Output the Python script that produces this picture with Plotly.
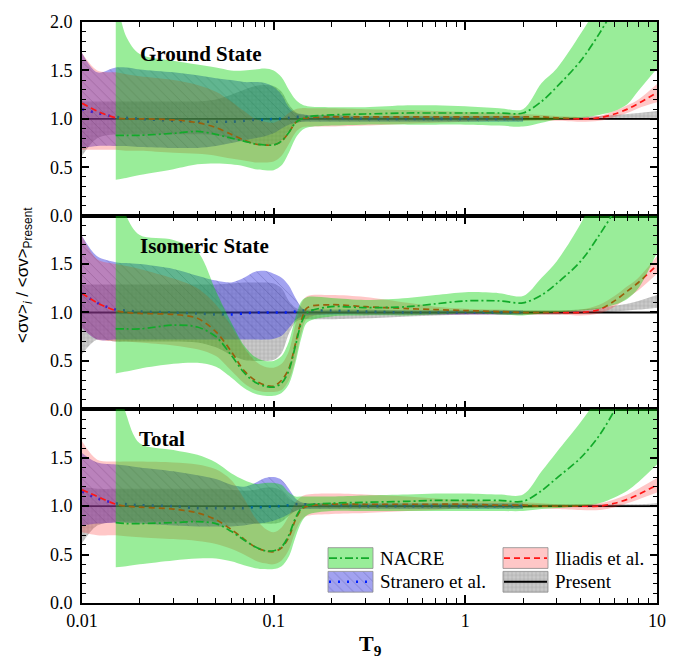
import plotly.graph_objects as go

# Temperature grid (T9)
T9 = [0.010, 0.012, 0.015, 0.017, 0.02, 0.03, 0.04, 0.05, 0.06, 0.07, 0.08, 0.09, 0.10,
      0.11, 0.12, 0.13, 0.14, 0.15, 0.20, 0.30, 0.50, 0.70, 1.0, 1.5, 2.0, 2.5, 3.0,
      4.0, 5.0, 6.0, 7.0, 8.0, 10.0]
N8 = [None] * 8

# ---------------- Ground state ----------------
present_gs_hi = [1.18, 1.18, 1.18, 1.18, 1.18, 1.18, 1.18, 1.20, 1.25, 1.30, 1.34, 1.35, 1.34, 1.28, 1.15, 1.07, 1.04, 1.03, 1.02, 1.02, 1.02, 1.02, 1.02, 1.02, 1.02, 1.02, 1.02, 1.02, 1.03, 1.04, 1.05, 1.06, 1.08]
present_gs_lo = [0.62, 0.80, 0.84, 0.84, 0.84, 0.84, 0.84, 0.83, 0.80, 0.76, 0.74, 0.73, 0.74, 0.78, 0.88, 0.95, 0.97, 0.98, 0.98, 0.98, 0.98, 0.98, 0.98, 0.98, 0.98, 0.99, 0.99, 0.99, 0.99, 0.99, 0.99, 0.99, 0.99]
stranero_gs_hi = [1.68, 1.48, 1.53, 1.53, 1.51, 1.48, 1.45, 1.42, 1.40, 1.38, 1.38, 1.37, 1.33, 1.25, 1.12, 1.06, 1.05, 1.04, 1.04, 1.03, 1.03, 1.03, 1.03, 1.03, 1.03] + N8
stranero_gs_mid = [1.10, 1.06, 1.02, 1.01, 1.00, 0.98, 0.97, 0.97, 0.97, 0.98, 0.99, 0.99, 1.00, 1.00, 1.01, 1.02, 1.02, 1.02, 1.01, 1.00, 1.00, 1.00, 1.00, 1.00, 1.00] + N8
stranero_gs_lo = [0.70, 0.72, 0.72, 0.72, 0.71, 0.70, 0.70, 0.72, 0.75, 0.78, 0.80, 0.82, 0.85, 0.90, 0.94, 0.96, 0.97, 0.97, 0.97, 0.97, 0.97, 0.97, 0.97, 0.97, 0.97] + N8
iliadis_gs_hi = [1.68, 1.50, 1.48, 1.46, 1.44, 1.40, 1.35, 1.28, 1.18, 1.08, 1.00, 0.97, 0.96, 1.00, 1.06, 1.10, 1.11, 1.11, 1.11, 1.10, 1.09, 1.08, 1.07, 1.06, 1.05, 1.04, 1.03, 1.02, 1.03, 1.08, 1.14, 1.20, 1.36]
iliadis_gs_mid = [1.16, 1.08, 1.01, 1.00, 1.00, 0.99, 0.96, 0.91, 0.84, 0.78, 0.74, 0.73, 0.73, 0.77, 0.86, 0.96, 1.00, 1.01, 1.02, 1.02, 1.02, 1.02, 1.02, 1.02, 1.02, 1.02, 1.01, 1.00, 1.01, 1.05, 1.10, 1.16, 1.27]
iliadis_gs_lo = [0.68, 0.68, 0.68, 0.67, 0.67, 0.65, 0.64, 0.62, 0.59, 0.57, 0.55, 0.55, 0.56, 0.62, 0.74, 0.86, 0.91, 0.92, 0.92, 0.93, 0.95, 0.96, 0.97, 0.98, 0.98, 0.98, 0.98, 0.97, 0.98, 1.02, 1.06, 1.11, 1.17]
nacre_gs_hi = [None, None, 2.30, 1.85, 1.67, 1.60, 1.56, 1.53, 1.50, 1.50, 1.51, 1.52, 1.50, 1.43, 1.30, 1.20, 1.15, 1.13, 1.12, 1.12, 1.14, 1.14, 1.13, 1.11, 1.10, 1.37, 1.52, 1.88, 2.20, 2.55, 2.85, 3.15, 3.70]
nacre_gs_mid = [None, None, 0.83, 0.83, 0.83, 0.85, 0.87, 0.84, 0.80, 0.77, 0.74, 0.73, 0.73, 0.77, 0.86, 0.96, 1.00, 1.02, 1.04, 1.05, 1.06, 1.06, 1.06, 1.06, 1.06, 1.18, 1.33, 1.60, 1.88, 2.15, 2.40, 2.60, 3.00]
nacre_gs_lo = [None, None, 0.37, 0.39, 0.42, 0.48, 0.53, 0.54, 0.53, 0.51, 0.48, 0.47, 0.47, 0.52, 0.65, 0.80, 0.88, 0.91, 0.93, 0.94, 0.94, 0.94, 0.94, 0.93, 0.92, 0.96, 0.99, 1.01, 1.04, 1.08, 1.15, 1.29, 1.52]

# ---------------- Isomeric state ----------------
present_is_hi = [1.29, 1.29, 1.29, 1.29, 1.29, 1.29, 1.29, 1.29, 1.30, 1.31, 1.31, 1.31, 1.30, 1.25, 1.12, 1.05, 1.03, 1.03, 1.03, 1.03, 1.02, 1.02, 1.02, 1.02, 1.02, 1.02, 1.02, 1.03, 1.05, 1.07, 1.09, 1.12, 1.18]
present_is_lo = [0.57, 0.72, 0.70, 0.70, 0.70, 0.70, 0.69, 0.64, 0.56, 0.51, 0.50, 0.50, 0.51, 0.58, 0.78, 0.90, 0.93, 0.93, 0.93, 0.94, 0.96, 0.97, 0.98, 0.98, 0.98, 0.98, 0.98, 0.99, 1.00, 1.01, 1.02, 1.03, 1.05]
stranero_is_hi = [1.79, 1.58, 1.52, 1.51, 1.50, 1.45, 1.38, 1.33, 1.31, 1.36, 1.42, 1.43, 1.40, 1.36, 1.28, 1.15, 1.05, 1.02, 1.02, 1.02, 1.02, 1.02, 1.02, 1.02, 1.02] + N8
stranero_is_mid = [1.20, 1.10, 1.03, 1.02, 1.01, 1.00, 0.99, 0.98, 0.98, 0.99, 1.00, 1.00, 1.00, 1.00, 1.00, 1.01, 1.02, 1.02, 1.02, 1.01, 1.00, 1.00, 1.00, 1.00, 1.00] + N8
stranero_is_lo = [0.84, 0.72, 0.72, 0.72, 0.72, 0.72, 0.72, 0.72, 0.72, 0.72, 0.72, 0.72, 0.73, 0.76, 0.84, 0.92, 0.96, 0.97, 0.98, 0.98, 0.98, 0.98, 0.98, 0.98, 0.98] + N8
iliadis_is_hi = [1.79, 1.55, 1.50, 1.48, 1.45, 1.35, 1.25, 1.08, 0.86, 0.64, 0.50, 0.44, 0.43, 0.47, 0.60, 0.88, 1.10, 1.17, 1.18, 1.16, 1.10, 1.06, 1.04, 1.03, 1.02, 1.02, 1.02, 1.03, 1.08, 1.17, 1.27, 1.36, 1.58]
iliadis_is_mid = [1.20, 1.10, 1.02, 1.00, 0.99, 0.98, 0.94, 0.80, 0.60, 0.40, 0.30, 0.25, 0.24, 0.30, 0.42, 0.68, 0.93, 1.05, 1.08, 1.06, 1.04, 1.03, 1.02, 1.01, 1.00, 1.00, 1.00, 1.00, 1.03, 1.12, 1.22, 1.31, 1.49]
iliadis_is_lo = [0.84, 0.72, 0.70, 0.70, 0.69, 0.66, 0.62, 0.55, 0.40, 0.27, 0.20, 0.18, 0.18, 0.20, 0.30, 0.52, 0.80, 0.94, 0.99, 0.98, 0.98, 0.98, 0.98, 0.98, 0.98, 0.98, 0.98, 0.97, 0.99, 1.06, 1.15, 1.23, 1.40]
nacre_is_hi = [None, None, 2.40, 2.00, 1.80, 1.75, 1.63, 1.22, 0.90, 0.66, 0.54, 0.50, 0.50, 0.55, 0.70, 0.95, 1.12, 1.16, 1.15, 1.13, 1.15, 1.18, 1.21, 1.20, 1.17, 1.36, 1.53, 1.92, 2.30, 2.60, 2.90, 3.20, 3.80]
nacre_is_mid = [None, None, 0.83, 0.83, 0.83, 0.87, 0.85, 0.75, 0.56, 0.38, 0.28, 0.24, 0.23, 0.27, 0.40, 0.66, 0.90, 1.00, 1.06, 1.05, 1.06, 1.09, 1.12, 1.12, 1.10, 1.18, 1.30, 1.53, 1.80, 2.05, 2.30, 2.50, 2.90]
nacre_is_lo = [None, None, 0.37, 0.39, 0.42, 0.47, 0.48, 0.44, 0.33, 0.22, 0.16, 0.14, 0.14, 0.17, 0.26, 0.48, 0.75, 0.90, 0.96, 0.97, 0.97, 0.98, 0.99, 0.98, 0.97, 0.99, 1.00, 1.02, 1.04, 1.08, 1.14, 1.25, 1.62]

# ---------------- Total ----------------
present_tot_hi = [1.20, 1.18, 1.18, 1.18, 1.18, 1.18, 1.18, 1.18, 1.17, 1.16, 1.17, 1.19, 1.19, 1.16, 1.08, 1.04, 1.03, 1.03, 1.02, 1.02, 1.02, 1.02, 1.02, 1.02, 1.02, 1.02, 1.02, 1.02, 1.02, 1.02, 1.02, 1.02, 1.03]
present_tot_lo = [0.62, 0.80, 0.84, 0.84, 0.84, 0.84, 0.84, 0.84, 0.83, 0.83, 0.82, 0.82, 0.82, 0.84, 0.90, 0.95, 0.97, 0.98, 0.98, 0.98, 0.98, 0.98, 0.98, 0.98, 0.98, 0.99, 0.99, 0.99, 0.99, 0.99, 0.99, 0.99, 0.99]
stranero_tot_hi = [1.55, 1.45, 1.43, 1.42, 1.40, 1.36, 1.32, 1.28, 1.22, 1.20, 1.24, 1.29, 1.30, 1.27, 1.18, 1.08, 1.04, 1.03, 1.03, 1.03, 1.03, 1.03, 1.03, 1.03, 1.03] + N8
stranero_tot_mid = [1.15, 1.08, 1.03, 1.02, 1.01, 1.00, 0.98, 0.98, 0.98, 0.98, 0.99, 0.99, 1.00, 1.00, 1.01, 1.02, 1.02, 1.02, 1.01, 1.00, 1.00, 1.00, 1.00, 1.00, 1.00] + N8
stranero_tot_lo = [0.80, 0.82, 0.83, 0.83, 0.82, 0.80, 0.79, 0.79, 0.79, 0.80, 0.82, 0.83, 0.85, 0.88, 0.92, 0.95, 0.97, 0.97, 0.97, 0.97, 0.97, 0.97, 0.97, 0.97, 0.97] + N8
iliadis_tot_hi = [1.67, 1.48, 1.46, 1.46, 1.46, 1.45, 1.43, 1.38, 1.27, 1.08, 0.88, 0.77, 0.73, 0.78, 0.90, 1.04, 1.10, 1.12, 1.13, 1.12, 1.10, 1.08, 1.06, 1.05, 1.04, 1.03, 1.02, 1.02, 1.03, 1.07, 1.12, 1.18, 1.29]
iliadis_tot_mid = [1.17, 1.10, 1.02, 1.00, 0.99, 0.97, 0.93, 0.86, 0.76, 0.66, 0.58, 0.54, 0.53, 0.57, 0.68, 0.86, 0.97, 1.00, 1.02, 1.02, 1.02, 1.02, 1.02, 1.01, 1.01, 1.00, 1.00, 1.00, 1.00, 1.03, 1.07, 1.12, 1.22]
iliadis_tot_lo = [0.73, 0.70, 0.70, 0.69, 0.68, 0.66, 0.64, 0.61, 0.56, 0.50, 0.44, 0.41, 0.40, 0.44, 0.55, 0.74, 0.86, 0.90, 0.92, 0.93, 0.95, 0.96, 0.98, 0.98, 0.98, 0.98, 0.97, 0.96, 0.96, 0.99, 1.03, 1.07, 1.14]
nacre_tot_hi = [None, None, 2.40, 1.95, 1.65, 1.58, 1.53, 1.45, 1.34, 1.27, 1.23, 1.24, 1.24, 1.22, 1.14, 1.10, 1.10, 1.10, 1.10, 1.11, 1.12, 1.13, 1.13, 1.12, 1.12, 1.36, 1.56, 1.87, 2.15, 2.50, 2.80, 3.10, 3.70]
nacre_tot_mid = [None, None, 0.83, 0.82, 0.82, 0.83, 0.84, 0.82, 0.74, 0.65, 0.58, 0.54, 0.54, 0.58, 0.70, 0.88, 0.98, 1.01, 1.03, 1.04, 1.05, 1.06, 1.06, 1.06, 1.05, 1.16, 1.29, 1.50, 1.73, 1.99, 2.25, 2.45, 2.85]
nacre_tot_lo = [None, None, 0.37, 0.38, 0.40, 0.44, 0.46, 0.46, 0.43, 0.39, 0.36, 0.35, 0.35, 0.38, 0.48, 0.68, 0.84, 0.91, 0.95, 0.95, 0.95, 0.95, 0.95, 0.95, 0.95, 0.97, 0.98, 1.00, 1.03, 1.09, 1.16, 1.25, 1.43]

PANEL_TITLES = ["Ground State", "Isomeric State", "Total"]
Y_TICKS = [0.0, 0.5, 1.0, 1.5, 2.0]
X_TICKS = [0.01, 0.1, 1, 10]
X_TICKTEXT = ["0.01", "0.1", "1", "10"]

SERIF = "Liberation Serif"
SANS = "Liberation Sans"

STYLE = {
    "Present": dict(fill="rgba(150,150,150,0.55)", line=dict(color="black", width=1.8, dash="solid"),
                    pattern=dict(shape="+", bgcolor="rgba(150,150,150,0.50)", fgcolor="rgba(70,70,70,0.55)", size=4, solidity=0.25)),
    "Stranero et al.": dict(fill="rgba(60,60,225,0.50)", line=dict(color="#0020ff", width=2.6, dash="2px,7px"),
                            pattern=dict(shape="\\", bgcolor="rgba(70,70,225,0.50)", fgcolor="rgba(40,40,110,0.5)", size=7, solidity=0.14)),
    "Iliadis et al.": dict(fill="rgba(255,40,40,0.26)", line=dict(color="#ff1515", width=1.7, dash="6px,4px"), pattern=None),
    "NACRE": dict(fill="rgba(0,210,0,0.40)", line=dict(color="#12aa2a", width=1.7, dash="8px,3px,2px,3px"), pattern=None),
}

panels = [
    {"Present": (present_gs_lo, [1.0] * len(T9), present_gs_hi),
     "Stranero et al.": (stranero_gs_lo, stranero_gs_mid, stranero_gs_hi),
     "Iliadis et al.": (iliadis_gs_lo, iliadis_gs_mid, iliadis_gs_hi),
     "NACRE": (nacre_gs_lo, nacre_gs_mid, nacre_gs_hi)},
    {"Present": (present_is_lo, [1.0] * len(T9), present_is_hi),
     "Stranero et al.": (stranero_is_lo, stranero_is_mid, stranero_is_hi),
     "Iliadis et al.": (iliadis_is_lo, iliadis_is_mid, iliadis_is_hi),
     "NACRE": (nacre_is_lo, nacre_is_mid, nacre_is_hi)},
    {"Present": (present_tot_lo, [1.0] * len(T9), present_tot_hi),
     "Stranero et al.": (stranero_tot_lo, stranero_tot_mid, stranero_tot_hi),
     "Iliadis et al.": (iliadis_tot_lo, iliadis_tot_mid, iliadis_tot_hi),
     "NACRE": (nacre_tot_lo, nacre_tot_mid, nacre_tot_hi)},
]


def valid(xs, ys):
    pts = [(x, y) for x, y in zip(xs, ys) if y is not None]
    return [p[0] for p in pts], [p[1] for p in pts]


fig = go.Figure()
SMOOTH = 0.9

for i, panel in enumerate(panels):
    xa = "x" if i == 0 else f"x{i + 1}"
    ya = "y" if i == 0 else f"y{i + 1}"
    for name in ["Present", "Stranero et al.", "Iliadis et al.", "NACRE"]:
        lo, mid, hi = panel[name]
        st = STYLE[name]
        x_lo, y_lo = valid(T9, lo)
        x_hi, y_hi = valid(T9, hi)
        x_mid, y_mid = valid(T9, mid)
        fig.add_trace(go.Scatter(x=x_lo, y=y_lo, mode="lines", xaxis=xa, yaxis=ya,
                                 line=dict(width=0, shape="spline", smoothing=SMOOTH),
                                 showlegend=False, hoverinfo="skip"))
        band = dict(x=x_hi, y=y_hi, mode="lines", xaxis=xa, yaxis=ya, fill="tonexty",
                    fillcolor=st["fill"], line=dict(width=0, shape="spline", smoothing=SMOOTH),
                    showlegend=False, hoverinfo="skip")
        if st["pattern"]:
            band["fillpattern"] = st["pattern"]
        fig.add_trace(go.Scatter(**band))
        fig.add_trace(go.Scatter(x=x_mid, y=y_mid, mode="lines", xaxis=xa, yaxis=ya,
                                 line=dict(st["line"], shape="spline", smoothing=SMOOTH),
                                 showlegend=False, name=name))

# figure geometry (pixels)
W, H = 694, 661
ML, MR, MT, MB = 82, 37, 15, 58
PW, PH = W - ML - MR, H - MT - MB


def px(xp, yp):
    return (xp - ML) / PW, (H - MB - yp) / PH


axis_common = dict(showline=True, linewidth=2, linecolor="black", mirror="allticks",
                   ticks="inside", tickwidth=1.6, tickcolor="black", showgrid=False, zeroline=False)

for i in range(3):
    sfx = "" if i == 0 else str(i + 1)
    dom = [(2 - i) / 3, (3 - i) / 3]
    fig.layout[f"xaxis{sfx}"] = dict(
        axis_common, type="log", range=[-2, 1], anchor=f"y{sfx}", domain=[0, 1],
        tickmode="array", tickvals=X_TICKS, ticktext=X_TICKTEXT, ticklen=8,
        showticklabels=(i == 2), tickfont=dict(family=SERIF, size=18, color="black"),
        minor=dict(ticks="inside", ticklen=5, tickwidth=1.4, tickcolor="black", dtick="D1", showgrid=False),
        matches="x" if i > 0 else None)
    yt = Y_TICKS if i == 0 else Y_TICKS[:-1]
    fig.layout[f"yaxis{sfx}"] = dict(
        axis_common, range=[0, 2], anchor=f"x{sfx}", domain=dom,
        tickmode="array", tickvals=yt, ticktext=[f"{v:.1f}" for v in yt], ticklen=7,
        ticklabelstandoff=4,
        tickfont=dict(family=SERIF, size=18, color="black"),
        minor=dict(ticks="inside", ticklen=4, tickwidth=1.4, tickcolor="black",
                   tickmode="linear", tick0=0, dtick=0.1, showgrid=False))

# legend drawn on an overlay axis measured in pixels
fig.layout["xaxis4"] = dict(overlaying="x3", range=[ML, W - MR], visible=False, anchor="y4")
fig.layout["yaxis4"] = dict(overlaying="y3", range=[H - MB, MT + 2 * PH / 3], visible=False, anchor="x4")

legend_items = [
    ("NACRE", 328, 547),
    ("Stranero et al.", 328, 571),
    ("Iliadis et al.", 503, 547),
    ("Present", 503, 571),
]
SW, SH = 45, 21
annotations = []
for name, x0, y0 in legend_items:
    st = STYLE[name]
    rect = dict(x=[x0, x0 + SW, x0 + SW, x0, x0], y=[y0, y0, y0 + SH, y0 + SH, y0],
                mode="lines", fill="toself", fillcolor=st["fill"],
                line=dict(color="rgba(140,140,140,0.8)", width=1),
                xaxis="x4", yaxis="y4", showlegend=False, hoverinfo="skip")
    if st["pattern"]:
        rect["fillpattern"] = st["pattern"]
    fig.add_trace(go.Scatter(**rect))
    fig.add_trace(go.Scatter(x=[x0 + 1, x0 + SW - 1], y=[y0 + SH / 2, y0 + SH / 2], mode="lines",
                             line=st["line"], xaxis="x4", yaxis="y4", showlegend=False, hoverinfo="skip"))
    annotations.append(dict(x=x0 + SW + 5, y=y0 + SH / 2, xref="x4", yref="y4", text=name,
                            showarrow=False, xanchor="left", yanchor="middle",
                            font=dict(family=SERIF, size=19, color="black")))

# panel titles
for title, (tx, ty) in zip(PANEL_TITLES, [(138, 47), (138, 242), (137, 437)]):
    ax, ay = px(tx, ty)
    annotations.append(dict(x=ax, y=ay, xref="paper", yref="paper", text=f"<b>{title}</b>",
                            showarrow=False, xanchor="left", yanchor="middle",
                            font=dict(family=SERIF, size=21, color="black")))

# axis titles
ax, ay = px(24, 271)
annotations.append(dict(x=ax, y=ay, xref="paper", yref="paper", textangle=-90,
                        text="&lt;σv&gt;<sub><i>i</i></sub> / &lt;σv&gt;<sub>Present</sub>",
                        showarrow=False, xanchor="center", yanchor="middle",
                        font=dict(family=SANS, size=17, color="black")))
ax, ay = px(370, 645)
annotations.append(dict(x=ax, y=ay, xref="paper", yref="paper", text="<b>T<sub>9</sub></b>",
                        showarrow=False, xanchor="center", yanchor="middle",
                        font=dict(family=SERIF, size=22, color="black")))

fig.update_layout(width=W, height=H, margin=dict(l=ML, r=MR, t=MT, b=MB),
                  paper_bgcolor="white", plot_bgcolor="white", showlegend=False,
                  annotations=annotations)

fig.write_html("out.html")
